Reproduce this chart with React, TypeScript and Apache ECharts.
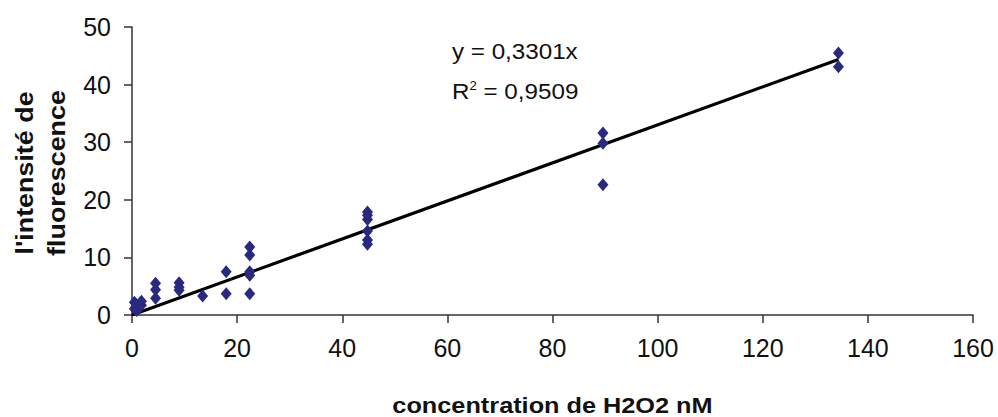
import React, { useEffect, useRef } from "react";
import * as echarts from "echarts";

// H2O2 concentration (nM) and measured fluorescence intensity
const concentrations = [
  0.448, 0.448, 0.896, 0.896, 1.792, 1.792,
  4.48, 4.48, 4.48,
  8.96, 8.96, 8.96,
  13.44,
  17.92, 17.92,
  22.4, 22.4, 22.4, 22.4, 22.4,
  44.8, 44.8, 44.8, 44.8, 44.8, 44.8,
  89.6, 89.6, 89.6,
  134.4, 134.4,
];
const intensities = [
  2.2, 1.1, 1.8, 0.8, 1.7, 2.4,
  5.5, 4.4, 2.9,
  5.6, 4.8, 4.3,
  3.3,
  7.5, 3.7,
  11.8, 10.4, 7.5, 6.9, 3.7,
  17.9, 17.3, 16.6, 14.6, 13.0, 12.3,
  31.6, 29.8, 22.6,
  45.5, 43.1,
];

// Linear fit through the origin
const SLOPE = 0.3301;
const R2 = "0,9509";

const xTicks = [0, 20, 40, 60, 80, 100, 120, 140, 160];
const yTicks = [0, 10, 20, 30, 40, 50];

const FONT = "'Liberation Sans', Arial, sans-serif";
const INK = "#111111";

export default function App() {
  const ref = useRef<HTMLDivElement>(null);

  useEffect(() => {
    if (!ref.current) return;
    const chart = echarts.init(ref.current, null, { renderer: "svg" });
    const points = concentrations.map((c, i) => [c, intensities[i]]);
    const xMax = Math.max(...concentrations);
    const fit = [
      [0, 0],
      [xMax, SLOPE * xMax],
    ];

    chart.setOption({
      animation: false,
      backgroundColor: "#ffffff",
      grid: { left: 132, right: 25, top: 27, bottom: 102, containLabel: false },
      xAxis: {
        type: "value",
        min: xTicks[0],
        max: xTicks[xTicks.length - 1],
        interval: 20,
        axisLine: { onZero: false, lineStyle: { color: "#333", width: 1.5 } },
        axisTick: { inside: false, length: 8, lineStyle: { color: "#333", width: 1.5 } },
        axisLabel: { margin: 20, fontFamily: FONT, fontSize: 25, color: INK },
        splitLine: { show: false },
      },
      yAxis: {
        type: "value",
        min: yTicks[0],
        max: yTicks[yTicks.length - 1],
        interval: 10,
        axisLine: { show: true, lineStyle: { color: "#333", width: 1.5 } },
        axisTick: { show: true, length: 8, lineStyle: { color: "#333", width: 1.5 } },
        axisLabel: { margin: 21, fontFamily: FONT, fontSize: 25, color: INK },
        splitLine: { show: false },
      },
      graphic: [
        {
          // y-axis title, two lines, reading bottom to top
          type: "text",
          x: 40.5,
          y: 173,
          rotation: Math.PI / 2,
          scaleX: 1.12,
          style: {
            text: "l'intensité de\nfluorescence",
            fontFamily: FONT,
            fontSize: 24,
            fontWeight: "bold",
            lineHeight: 32,
            fill: INK,
            align: "center",
            verticalAlign: "middle",
          },
        },
        {
          // x-axis title
          type: "text",
          x: 552.5,
          y: 406,
          scaleX: 1.15,
          style: {
            text: "concentration de H2O2 nM",
            fontFamily: FONT,
            fontSize: 22,
            fontWeight: "bold",
            fill: INK,
            align: "center",
            verticalAlign: "middle",
          },
        },
        {
          type: "text",
          x: 452,
          y: 51,
          scaleX: 1.1,
          style: {
            text: `y = ${String(SLOPE).replace(".", ",")}x`,
            fontFamily: FONT,
            fontSize: 22,
            fill: INK,
            align: "left",
            verticalAlign: "middle",
          },
        },
        {
          type: "text",
          x: 452,
          y: 80,
          scaleX: 1.1,
          style: {
            text: `{r|R}{s|2}{r| = ${R2}}`,
            align: "left",
            verticalAlign: "top",
            rich: {
              r: { fontFamily: FONT, fontSize: 22, fill: INK, verticalAlign: "bottom" },
              s: { fontFamily: FONT, fontSize: 12, fill: INK, verticalAlign: "top", padding: [0, 0, 10, 0] },
            },
          },
        },
      ],
      series: [
        {
          type: "line",
          data: fit,
          showSymbol: false,
          lineStyle: { color: "#000", width: 3.2 },
          z: 2,
        },
        {
          type: "scatter",
          data: points,
          symbol: "diamond",
          symbolSize: [11, 13],
          itemStyle: { color: "#2A2980", opacity: 1 },
          z: 3,
        },
      ],
    });

    return () => chart.dispose();
  }, []);

  return (
    <div
      ref={ref}
      style={{ position: "absolute", left: 0, top: 0, width: 998, height: 417 }}
    />
  );
}
